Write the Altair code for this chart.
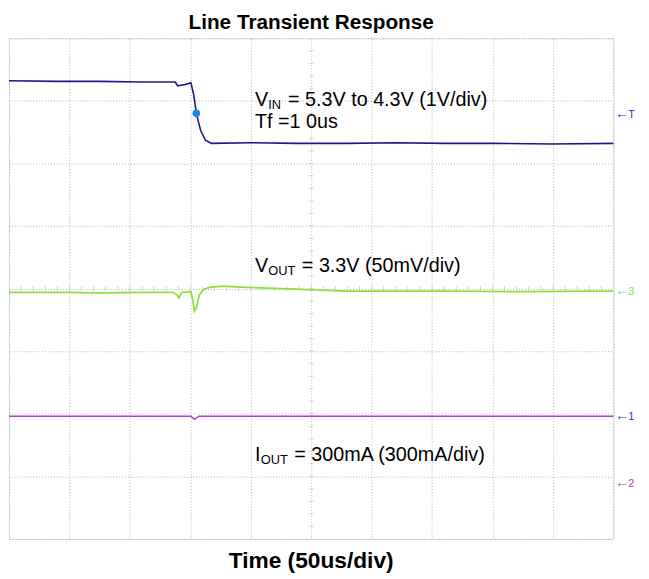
import altair as alt
import pandas as pd

# ---- data (in oscilloscope divisions: x 0..10, y 0..8) ----
vin_x = [0.0, 0.8, 1.49, 2.2, 2.75, 2.79, 2.92, 3.01, 3.06, 3.10, 3.17, 3.25, 3.35, 4.0, 4.75, 5.6, 6.39, 7.2, 8.02, 9.0, 10.0]
vin_y = [7.32, 7.31, 7.31, 7.30, 7.30, 7.24, 7.26, 7.29, 7.08, 6.80, 6.53, 6.37, 6.32, 6.33, 6.32, 6.32, 6.33, 6.32, 6.32, 6.31, 6.32]

vout_x = [0.0, 1.0, 1.49, 2.2, 2.71, 2.78, 2.81, 2.86, 3.01, 3.04, 3.07, 3.10, 3.15, 3.22, 3.32, 3.53, 3.94, 4.75, 5.57, 6.5, 7.21, 8.5, 10.0]
vout_y = [3.94, 3.94, 3.93, 3.94, 3.94, 3.90, 3.85, 3.94, 3.95, 3.82, 3.64, 3.69, 3.90, 3.99, 4.02, 4.04, 4.02, 3.99, 3.96, 3.96, 3.96, 3.95, 3.96]

iout_x = [0.0, 1.5, 3.01, 3.07, 3.14, 5.0, 7.5, 10.0]
iout_y = [1.96, 1.96, 1.96, 1.91, 1.96, 1.96, 1.96, 1.96]

dot_x = [3.10]
dot_y = [6.80]

# annotation anchors (x, baseline y) and texts
ann_main = ["V", "Tf =1 0us", "V", "I"]
ann_sub = ["IN", "", "OUT", "OUT"]
ann_rest = ["= 5.3V to 4.3V (1V/div)", "", "= 3.3V (50mV/div)", "= 300mA (300mA/div)"]
ann_x = [4.07, 4.07, 4.07, 4.07]
ann_y = [6.92, 6.56, 4.26, 1.25]
main_w = [13.5, 0, 13.5, 5.8]      # pixel offsets for subscripts
sub_w = [20.0, 0, 34.0, 34.0]

title_text = ["Line Transient Response"]
xlabel_text = ["Time (50us/div)"]

marker_txt = ["←", "←", "←", "←"]
marker_lbl = ["T", "3", "1", "2"]
marker_y = [6.79, 3.96, 1.96, 0.90]
marker_col = ["#2030b0", "#80e040", "#3030c0", "#b040c8"]

W, H = 612, 507
xs = alt.Scale(domain=[0, 10], nice=False, zero=False)
ys = alt.Scale(domain=[0, 8], nice=False, zero=False)

def trace_df(x, y):
    return pd.DataFrame({"x": x, "y": y})

axis_x = alt.Axis(values=list(range(11)), grid=True, gridDash=[1, 2], gridColor="#b4b4b4",
                  labels=False, ticks=False, domain=False, title=None)
axis_y = alt.Axis(values=list(range(9)), grid=True, gridDash=[1, 2], gridColor="#b4b4b4",
                  labels=False, ticks=False, domain=False, title=None)

minor = [round(0.2 * i, 1) for i in range(1, 50)]
minor_v = pd.DataFrame({"y": [v for v in minor if v < 8], "x": 5.0})
minor_h = pd.DataFrame({"x": minor, "y": 4.0})

grid = alt.Chart(pd.DataFrame({"x": [0], "y": [0]})).mark_point(opacity=0).encode(
    x=alt.X("x:Q", scale=xs, axis=axis_x), y=alt.Y("y:Q", scale=ys, axis=axis_y))

tick_v = alt.Chart(minor_v).mark_tick(orient="horizontal", size=5, thickness=1, color="#c4c4c4").encode(
    x=alt.X("x:Q", scale=xs), y=alt.Y("y:Q", scale=ys))
tick_h = alt.Chart(minor_h).mark_tick(orient="vertical", size=5, thickness=1, color="#c4c4c4").encode(
    x=alt.X("x:Q", scale=xs), y=alt.Y("y:Q", scale=ys))

def line(x, y, color, w):
    return alt.Chart(trace_df(x, y)).mark_line(color=color, strokeWidth=w).encode(
        x=alt.X("x:Q", scale=xs), y=alt.Y("y:Q", scale=ys))

vin = line(vin_x, vin_y, "#1a1a8a", 1.6)
vout = line(vout_x, vout_y, "#8ee03c", 1.8)
iout = line(iout_x, iout_y, "#b03cc8", 1.6)

dot = alt.Chart(pd.DataFrame({"x": dot_x, "y": dot_y})).mark_point(
    filled=True, color="#1e88e8", size=60, opacity=1, shape="circle").encode(
    x=alt.X("x:Q", scale=xs), y=alt.Y("y:Q", scale=ys))

FONT = "Liberation Sans"
layers = [grid, tick_v, tick_h, iout, vout, vin, dot]

for i in range(len(ann_main)):
    d = pd.DataFrame({"x": [ann_x[i]], "y": [ann_y[i]]})
    enc = dict(x=alt.X("x:Q", scale=xs), y=alt.Y("y:Q", scale=ys))
    layers.append(alt.Chart(d).mark_text(text=ann_main[i], align="left", baseline="alphabetic",
                                         font=FONT, fontSize=20, color="#000").encode(**enc))
    if ann_sub[i]:
        layers.append(alt.Chart(d).mark_text(text=ann_sub[i], align="left", baseline="alphabetic",
                                             font=FONT, fontSize=13, dx=main_w[i], dy=3,
                                             color="#000").encode(**enc))
    if ann_rest[i]:
        layers.append(alt.Chart(d).mark_text(text=ann_rest[i], align="left", baseline="alphabetic",
                                             font=FONT, fontSize=20, dx=main_w[i] + sub_w[i],
                                             color="#000").encode(**enc))

layers.append(alt.Chart(pd.DataFrame({"x": [5.0], "y": [8.14], "t": title_text})).mark_text(
    align="center", baseline="alphabetic", font=FONT, fontSize=21, fontWeight="bold", color="#000").encode(
    x=alt.X("x:Q", scale=xs), y=alt.Y("y:Q", scale=ys), text="t:N"))
layers.append(alt.Chart(pd.DataFrame({"x": [5.0], "y": [-0.46], "t": xlabel_text})).mark_text(
    align="center", baseline="alphabetic", font=FONT, fontSize=23, fontWeight="bold", color="#000").encode(
    x=alt.X("x:Q", scale=xs), y=alt.Y("y:Q", scale=ys), text="t:N"))

mk = pd.DataFrame({"x": [10.0] * 4, "y": marker_y, "a": marker_txt, "l": marker_lbl, "c": marker_col})
layers.append(alt.Chart(mk).mark_text(align="left", baseline="middle", font=FONT, fontSize=14, dx=2).encode(
    x=alt.X("x:Q", scale=xs), y=alt.Y("y:Q", scale=ys), text="a:N",
    color=alt.Color("c:N", scale=None)))
layers.append(alt.Chart(mk).mark_text(align="left", baseline="middle", font=FONT, fontSize=11, dx=15, dy=1).encode(
    x=alt.X("x:Q", scale=xs), y=alt.Y("y:Q", scale=ys), text="l:N",
    color=alt.Color("c:N", scale=None)))

chart = alt.layer(*layers).properties(
    width=W, height=H,
    autosize=alt.AutoSizeParams(type="none"),
    padding={"left": 1, "top": 27, "right": 28, "bottom": 37},
).configure_view(stroke="#9a9a9a", strokeWidth=1).configure(background="white")

chart.save("out.html", embed_options={"renderer": "svg", "actions": False})
